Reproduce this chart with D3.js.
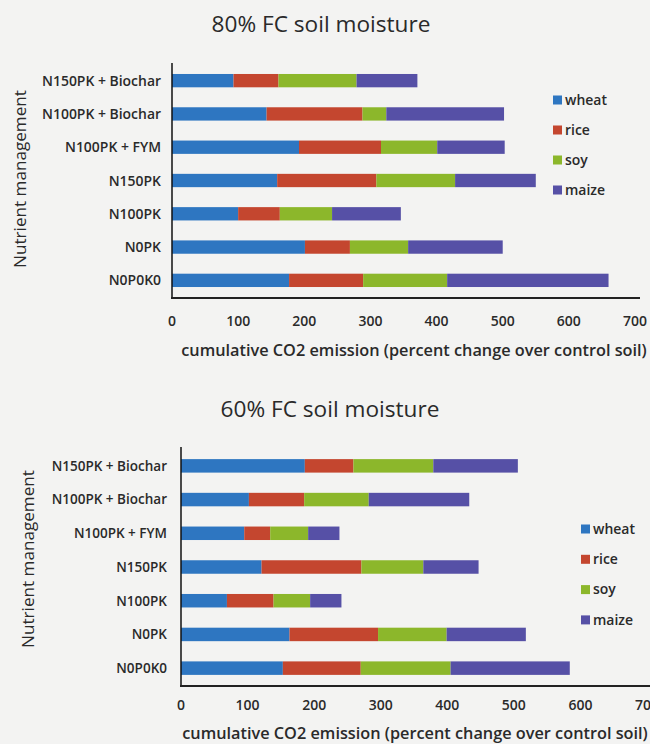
<!DOCTYPE html>
<html>
<head>
<meta charset="utf-8">
<script src="https://d3js.org/d3.v7.min.js"></script>
<style>
  html, body { margin: 0; padding: 0; background: #f3f3f2; }
  svg { display: block; }
  text { font-family: "Open Sans", Lato, sans-serif; fill: #2a2a2a; }
</style>
</head>
<body>
<svg id="chart" width="650" height="744"></svg>
<script>
const categories = ["N150PK + Biochar", "N100PK + Biochar", "N100PK + FYM", "N150PK", "N100PK", "N0PK", "N0P0K0"];
const crops = ["wheat", "rice", "soy", "maize"];
const xTicks = [0, 100, 200, 300, 400, 500, 600, 700];

// 80% FC soil moisture
const fc80_wheat = [93, 143, 192, 159, 100, 201, 177];
const fc80_rice  = [68, 145, 124, 150, 63, 68, 112];
const fc80_soy   = [118, 36, 85, 119, 79, 88, 127];
const fc80_maize = [92, 178, 102, 122, 104, 143, 244];

// 60% FC soil moisture
const fc60_wheat = [186, 102, 95, 121, 69, 163, 153];
const fc60_rice  = [73, 83, 39, 150, 70, 133, 117];
const fc60_soy   = [120, 97, 57, 93, 55, 103, 135];
const fc60_maize = [127, 151, 47, 83, 47, 119, 179];

const colors = ["#2e76c1", "#c4462f", "#8cb72b", "#5650a6"];

const svg = d3.select("#chart");
const color = d3.scaleOrdinal().domain(crops).range(colors);

// size a font so that a reference string spans a given width
function fitSize(str, weight, width) {
  const t = svg.append("text").attr("font-size", 20).attr("font-weight", weight).text(str);
  const w = t.node().getComputedTextLength();
  t.remove();
  return 20 * width / w;
}

const catSize   = fitSize("N150PK + Biochar", 600, 119);
const tickSize  = fitSize("100", 600, 24);
const xTitleSize = fitSize("cumulative CO2 emission (percent change over control soil)", 600, 466);
const yTitleSize = fitSize("Nutrient management", 400, 178);
const titleSize = fitSize("80% FC soil moisture", 400, 219);
const legSize   = fitSize("wheat", 600, 42);

function buildRows(w, r, s, m) {
  return categories.map((c, i) => ({ cat: c, wheat: w[i], rice: r[i], soy: s[i], maize: m[i] }));
}

function drawPanel(cfg) {
  const rows = buildRows(...cfg.series);
  const x = d3.scaleLinear().domain([0, 700]).range([cfg.x0, cfg.x1]);
  const y = d3.scaleBand().domain(categories).range([cfg.y0, cfg.y1]).paddingInner(0.6).paddingOuter(0.3);
  const stacked = d3.stack().keys(crops)(rows);

  const g = svg.append("g");

  g.selectAll("g.layer").data(stacked).join("g")
    .attr("class", "layer")
    .attr("fill", d => color(d.key))
    .selectAll("rect").data(d => d).join("rect")
      .attr("x", d => x(d[0]))
      .attr("width", d => x(d[1]) - x(d[0]))
      .attr("y", d => y(d.data.cat))
      .attr("height", y.bandwidth());

  // left axis line
  g.append("line")
    .attr("x1", x(0)).attr("x2", x(0))
    .attr("y1", cfg.yTop).attr("y2", cfg.y1 + 1)
    .attr("stroke", "#111").attr("stroke-width", 1.5);
  // bottom axis line
  g.append("line")
    .attr("x1", x(0) - 1).attr("x2", cfg.axisEnd)
    .attr("y1", cfg.y1 + 1).attr("y2", cfg.y1 + 1)
    .attr("stroke", "#222").attr("stroke-width", 2.2);

  // category labels
  g.selectAll("text.cat").data(categories).join("text")
    .attr("class", "cat")
    .attr("x", cfg.labelX)
    .attr("y", d => y(d) + y.bandwidth() / 2)
    .attr("dy", "0.36em")
    .attr("text-anchor", "end")
    .attr("font-size", catSize * cfg.catScale)
    .attr("font-weight", 600)
    .text(d => d);

  // x tick labels
  g.selectAll("text.tick").data(xTicks).join("text")
    .attr("class", "tick")
    .attr("x", d => x(d))
    .attr("y", cfg.tickY)
    .attr("text-anchor", "middle")
    .attr("font-size", tickSize)
    .attr("font-weight", 600)
    .text(d => d);

  // x axis title
  g.append("text")
    .attr("x", cfg.xTitleX).attr("y", cfg.xTitleY)
    .attr("text-anchor", "middle")
    .attr("font-size", xTitleSize)
    .attr("font-weight", 600)
    .text("cumulative CO2 emission (percent change over control soil)");

  // y axis title
  g.append("text")
    .attr("transform", `translate(${cfg.yTitleX},${cfg.yTitleY}) rotate(-90)`)
    .attr("text-anchor", "middle")
    .attr("font-size", yTitleSize)
    .attr("font-weight", 400)
    .text("Nutrient management");

  // title
  g.append("text")
    .attr("x", cfg.titleX).attr("y", cfg.titleY)
    .attr("text-anchor", "middle")
    .attr("font-size", titleSize)
    .text(cfg.title);

  // legend
  const lg = g.append("g").attr("transform", `translate(${cfg.legX},${cfg.legY})`);
  const items = lg.selectAll("g").data(crops).join("g")
    .attr("transform", (d, i) => `translate(0,${i * cfg.legStep})`);
  items.append("rect").attr("x", 0).attr("y", -4.5).attr("width", 9).attr("height", 9)
    .attr("fill", d => color(d));
  items.append("text").attr("x", 12).attr("y", 0).attr("dy", "0.33em")
    .attr("font-size", legSize).attr("font-weight", 600).text(d => d);
}

drawPanel({
  title: "80% FC soil moisture",
  series: [fc80_wheat, fc80_rice, fc80_soy, fc80_maize],
  x0: 172, x1: 635, y0: 64, y1: 297, yTop: 63, axisEnd: 640,
  labelX: 161, catScale: 1, tickY: 326, xTitleX: 414, xTitleY: 356,
  yTitleX: 26, yTitleY: 179, titleX: 321, titleY: 32,
  legX: 553, legY: 100, legStep: 30
});

drawPanel({
  title: "60% FC soil moisture",
  series: [fc60_wheat, fc60_rice, fc60_soy, fc60_maize],
  x0: 181, x1: 647, y0: 449, y1: 685, yTop: 447, axisEnd: 650,
  labelX: 167, catScale: 0.97, tickY: 710, xTitleX: 415, xTitleY: 739,
  yTitleX: 34, yTitleY: 559, titleX: 330, titleY: 417,
  legX: 581, legY: 529, legStep: 30.3
});
</script>
</body>
</html>
